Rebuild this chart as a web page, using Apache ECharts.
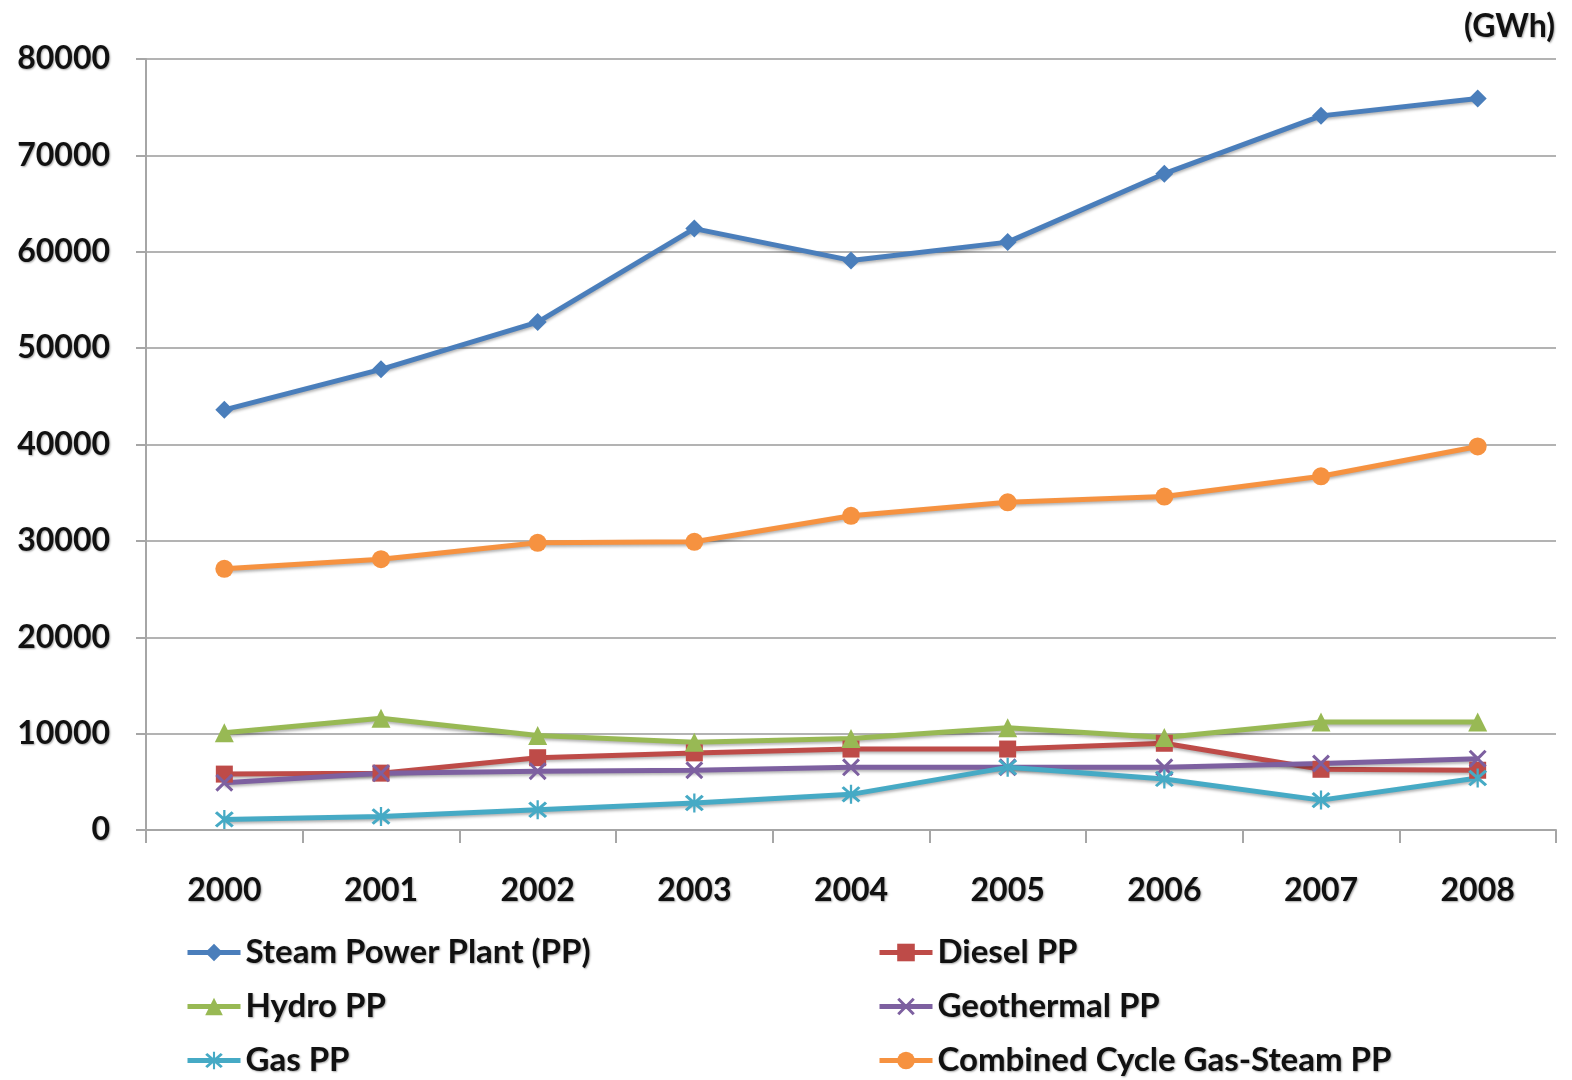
<!DOCTYPE html>
<html>
<head>
<meta charset="utf-8">
<script src="https://cdn.jsdelivr.net/npm/echarts@6/dist/echarts.min.js"></script>
<style>
  html, body { margin: 0; padding: 0; background: #fff; }
  #chart { width: 1572px; height: 1080px; }
</style>
</head>
<body>
<div id="chart"></div>
<script>
const years = ['2000', '2001', '2002', '2003', '2004', '2005', '2006', '2007', '2008']
const steam = [43600, 47800, 52700, 62400, 59100, 61000, 68100, 74100, 75900]
const diesel = [5800, 5900, 7500, 8000, 8400, 8400, 9000, 6300, 6200]
const hydro = [10100, 11600, 9800, 9100, 9500, 10600, 9600, 11200, 11200]
const geothermal = [4900, 5900, 6100, 6200, 6500, 6500, 6500, 6900, 7400]
const gas = [1100, 1400, 2100, 2800, 3700, 6500, 5300, 3100, 5400]
const combined = [27100, 28100, 29800, 29900, 32600, 34000, 34600, 36700, 39800]
const yTicks = [0, 10000, 20000, 30000, 40000, 50000, 60000, 70000, 80000]

const FONT = 'Lato, "Open Sans", sans-serif'
const textShadow = { textShadowColor: 'rgba(0,0,0,0.35)', textShadowBlur: 2, textShadowOffsetX: 1, textShadowOffsetY: 1 }

const X_PATH = 'path://M0,1.2L1.2,0L5,3.8L8.8,0L10,1.2L6.2,5L10,8.8L8.8,10L5,6.2L1.2,10L0,8.8L3.8,5Z'
const STAR_PATH = 'path://M0,1.2L1.2,0L5,3.8L8.8,0L10,1.2L6.2,5L10,8.8L8.8,10L5,6.2L1.2,10L0,8.8L3.8,5Z M4.4,-0.8L5.6,-0.8L5.6,10.8L4.4,10.8Z'

const mk = (name, data, color, symbol, size) => ({
  name,
  type: 'line',
  data,
  symbol,
  symbolSize: size,
  itemStyle: { color },
  lineStyle: {
    color,
    width: 5,
    shadowColor: 'rgba(0,0,0,0.3)',
    shadowBlur: 3,
    shadowOffsetY: 2
  },
  emphasis: { disabled: true }
})

const series = [
  mk('Steam Power Plant (PP)', steam, '#4a7ebb', 'diamond', 18),
  mk('Diesel PP', diesel, '#be4b48', 'rect', 17),
  mk('Hydro PP', hydro, '#98b954', 'triangle', 19),
  mk('Geothermal PP', geothermal, '#7d60a0', X_PATH, 18),
  mk('Gas PP', gas, '#46aac5', STAR_PATH, 19),
  mk('Combined Cycle Gas-Steam PP', combined, '#f69240', 'circle', 18)
]

const legendCommon = {
  orient: 'vertical',
  height: 150,
  padding: 0,
  itemWidth: 53,
  itemHeight: 22,
  itemGap: 21,
  lineStyle: { width: 5 },
  textStyle: { fontFamily: FONT, fontWeight: 'bold', fontSize: 33, lineHeight: 32, color: '#111', ...textShadow }
}

const chart = echarts.init(document.getElementById('chart'))
chart.setOption({
  animation: false,
  backgroundColor: '#fff',
  title: {
    text: '(GWh)',
    right: 12,
    top: 6,
    textStyle: { fontFamily: FONT, fontWeight: 'bold', fontSize: 32, color: '#111', ...textShadow }
  },
  legend: [
    { ...legendCommon, left: 185, top: 936, data: [series[0].name, series[2].name, series[4].name] },
    { ...legendCommon, left: 877, top: 936, data: [series[1].name, series[3].name, series[5].name] }
  ],
  grid: { left: 146, right: 16, top: 59, bottom: 250 },
  xAxis: {
    type: 'category',
    data: years,
    boundaryGap: true,
    axisLine: { lineStyle: { color: '#a6a6a6', width: 2 } },
    axisTick: { show: true, length: 13, lineStyle: { color: '#a6a6a6', width: 2 } },
    axisLabel: { fontFamily: FONT, fontWeight: 'bold', fontSize: 32, color: '#111', margin: 45, ...textShadow }
  },
  yAxis: {
    type: 'value',
    min: yTicks[0],
    max: yTicks[yTicks.length - 1],
    interval: 10000,
    axisLine: { show: true, lineStyle: { color: '#a6a6a6', width: 2 } },
    axisTick: { show: true, length: 10, lineStyle: { color: '#a6a6a6', width: 2 } },
    splitLine: { lineStyle: { color: '#b3b3b3', width: 2 } },
    axisLabel: { fontFamily: FONT, fontWeight: 'bold', fontSize: 32, color: '#111', margin: 36, formatter: v => String(v), ...textShadow }
  },
  series
})
</script>
</body>
</html>
